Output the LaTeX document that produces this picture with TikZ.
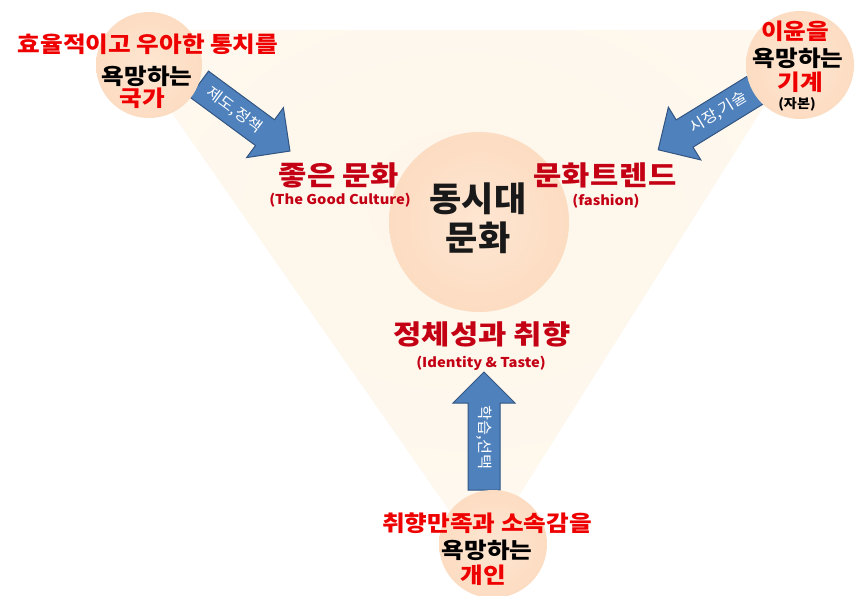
\documentclass[tikz,border=0pt]{standalone}
\usepackage{fontspec}
\setmainfont{Noto Sans CJK KR}
\newfontfamily\krw{Noto Sans CJK KR}[FakeStretch=1.12]
\newfontfamily\krb{Noto Sans CJK KR}[FakeStretch=1.14]
\newfontfamily\krc{Noto Sans CJK KR}[FakeStretch=1.03]
\newfontfamily\kre{Noto Sans CJK KR}[FakeStretch=1.09]
\definecolor{peachout}{RGB}{250,206,170}
\definecolor{peachin}{RGB}{254,230,210}
\definecolor{peachrim}{RGB}{240,192,152}
\definecolor{cream}{RGB}{254,246,234}
\definecolor{creamedge}{RGB}{255,252,247}
\definecolor{brightred}{RGB}{238,0,0}
\definecolor{darkred}{RGB}{196,0,20}
\definecolor{arrowblue}{RGB}{79,129,189}
\definecolor{arrowline}{RGB}{50,85,130}
\pgfdeclareradialshading{peachball}{\pgfpoint{0bp}{0bp}}{color(0bp)=(peachin); color(28bp)=(peachin!55!peachout); color(47bp)=(peachout); color(50bp)=(peachrim)}
\pgfdeclareradialshading{tri}{\pgfpoint{0bp}{10bp}}{color(0bp)=(cream); color(25bp)=(cream!70!creamedge); color(50bp)=(creamedge)}
\tikzset{
  ball/.style={circle, shading=peachball, inner sep=0pt},
  arrowbody/.style={fill=arrowblue, draw=arrowline, line width=1pt, line join=miter},
  arrowlabel/.style={text=white, font=\kre\fontsize{15}{15}\selectfont, inner sep=0pt},
  redtxt/.style={text=brightred, font=\krw\bfseries\fontsize{22}{22}\selectfont, inner sep=0pt},
  blacktxt/.style={text=black, font=\krw\bfseries\fontsize{22}{22}\selectfont, inner sep=0pt},
  bigred/.style={text=darkred, font=\krb\bfseries\fontsize{27}{27}\selectfont, inner sep=0pt},
  smallred/.style={text=darkred, font=\kre\bfseries\fontsize{13.5}{13.5}\selectfont, inner sep=0pt},
  centertxt/.style={text=black!90, font=\krc\bfseries\fontsize{34}{34}\selectfont, inner sep=0pt},
}
\newcommand\blkarrow[8]{%
  \begin{scope}[shift={(#2,#3)},rotate=#4]
    \draw[arrowbody] (0,-16) -- ({#5-31},-16) -- ({#5-31},-31) -- (#5,0) -- ({#5-31},31) -- ({#5-31},16) -- (0,16) -- cycle;
    \node[arrowlabel, rotate=#4+#7] (#1) at ({(#5-31)/2+#8},0) {#6};
  \end{scope}}
\begin{document}
\begin{tikzpicture}[x=1pt,y=-1pt]
\useasboundingbox (0,0) rectangle (858,595);
\fill[white] (0,0) rectangle (858,595);
% background triangle
\shade[shading=tri] (114,30) -- (812,30) -- (481,556) -- cycle;
% arrows
\blkarrow{alab1}{199}{84}{-36.4}{113}{제도,정책}{0}{3}
\blkarrow{alab2}{757}{89}{211.6}{116}{시장,기술}{180}{3}
\blkarrow{alab3}{484}{490}{90}{118}{학습,선택}{180}{9}
% circles
\node[ball, minimum size=106pt] (cTL) at (149,65) {};
\node[ball, minimum size=108pt] (cTR) at (800,65) {};
\node[ball, minimum size=108pt] (cB) at (493,544) {};
\node[ball, minimum size=180pt] (cC) at (479,222) {};
% top-left texts
\node[redtxt] (tl1) at (148,44) {효율적이고 우아한 통치를};
\node[blacktxt] (tl2) at (147,76) {욕망하는};
\node[redtxt] (tl3) at (142,98) {국가};
% top-right texts
\node[redtxt] (tr1) at (795,31) {이윤을};
\node[blacktxt] (tr2) at (798,58) {욕망하는};
\node[redtxt] (tr3) at (800,82) {기계};
\node[text=black, font=\kre\bfseries\fontsize{13}{13}\selectfont, inner sep=0pt] (tr4) at (797,104) {(자본)};
% bottom texts
\node[redtxt] (b1) at (487,523) {취향만족과 소속감을};
\node[blacktxt] (b2) at (487,550) {욕망하는};
\node[redtxt] (b3) at (483,575) {개인};
% central texts
\node[bigred] (good) at (339,175) {좋은 문화};
\node[smallred] (goode) at (340,200) {(The Good Culture)};
\node[bigred, font=\krb\bfseries\fontsize{27}{27}\selectfont\addfontfeature{LetterSpace=2}] (trend) at (605,175) {문화트렌드};
\node[smallred] (trende) at (606,201) {(fashion)};
\node[centertxt] (c1) at (478,199) {동시대};
\node[centertxt] (c2) at (478,238) {문화};
\node[bigred] (id) at (482,334) {정체성과 취향};
\node[smallred] (ide) at (481,363) {(Identity \& Taste)};
\end{tikzpicture}
\end{document}
